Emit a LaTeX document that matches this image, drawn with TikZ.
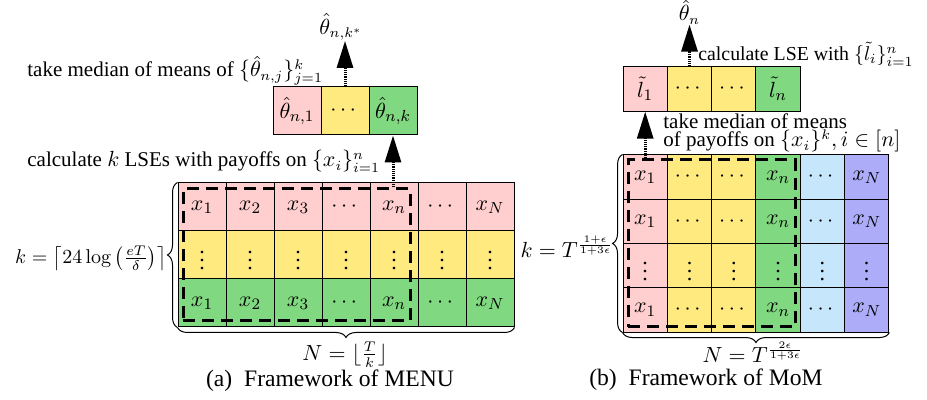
\documentclass[tikz,border=0pt]{standalone}
\usepackage[no-math]{fontspec}
\setmainfont{Liberation Serif}
\usepackage{amsmath}
\usetikzlibrary{arrows.meta,decorations.pathreplacing}
\definecolor{cpink}{RGB}{255,206,206}
\definecolor{cyel}{RGB}{255,234,128}
\definecolor{cgreen}{RGB}{128,216,128}
\definecolor{cblue}{RGB}{198,230,252}
\definecolor{cpurp}{RGB}{172,172,248}
\begin{document}
\begin{tikzpicture}[x=0.5pt,y=-0.5pt,
  cellA/.style={draw=black, line width=0.5pt, minimum width=24pt, minimum height=24pt, inner sep=0pt, font=\fontsize{11}{13}\selectfont},
  cellB/.style={draw=black, line width=0.5pt, minimum width=22.15pt, minimum height=22.15pt, inner sep=0pt, font=\fontsize{11}{13}\selectfont},
  dashbox/.style={draw=black, line width=1.5pt, dash pattern=on 6pt off 3.5pt, inner sep=0pt},
  dotarrow/.style={line width=1.5pt, dash pattern=on 0.6pt off 0.5pt, -{Triangle[length=13.5pt,width=8pt]}},
  txt/.style={inner sep=0pt, font=\fontsize{10.5}{12.5}\selectfont},
  mtxt/.style={inner sep=0pt, font=\fontsize{10.5}{12}\selectfont},
  captxt/.style={inner sep=0pt, font=\fontsize{11.8}{14}\selectfont},
  brc/.style={decorate, decoration={brace, amplitude=5pt}, line width=0.5pt}]
\useasboundingbox (0,0) rectangle (927,400);
% ---------- (a) MENU ----------
\foreach \c/\t in {1/{x_1},2/{x_2},3/{x_3},4/{\cdots},5/{x_n},6/{\cdots},7/{x_N}}{
  \node[cellA, fill=cpink] (La1\c) at ({202+48*(\c-1)},207) {$\t$};
  \node[cellA, fill=cyel] (La2\c) at ({202+48*(\c-1)},255) {$\vdots$};
  \node[cellA, fill=cgreen] (La3\c) at ({202+48*(\c-1)},303) {$\t$};
}
\node[cellA, fill=cpink] (t1) at (297,111) {$\hat\theta_{n,1}$};
\node[cellA, fill=cyel] (t2) at (345,111) {$\cdots$};
\node[cellA, fill=cgreen] (t3) at (393,111) {$\hat\theta_{n,k}$};
\node[dashbox, minimum width=113.5pt, minimum height=66pt] (dA) at (296.5,255) {};
\node[mtxt] (thstar) at (341,27) {$\hat\theta_{n,k^*}$};
\draw[dotarrow] (dA.north -| t3.south) -- (t3.south);
\draw[dotarrow] (t2.north) -- (t2.north |- thstar.south);
\node[txt, anchor=base west] (tA1) at (27,77) {take median of means of $\{\hat\theta_{n,j}\}_{j=1}^{k}$};
\node[txt, anchor=base west] (tA2) at (27,167) {calculate $k$ LSEs with payoffs on $\{x_i\}_{i=1}^{n}$};
\draw[brc] (La31.south west) -- (La11.north west);
\node[mtxt, anchor=east, font=\fontsize{10.3}{12}\selectfont] (kA) at (167,258) {$k=\left\lceil 24\log\left(\frac{eT}{\delta}\right)\right\rceil$};
\draw[brc] (La37.south east) -- (La31.south west);
\node[mtxt] (NA) at (345,355) {$N=\lfloor\frac{T}{k}\rfloor$};
\node[captxt] (capA) at (330,381) {(a)\ \ Framework of MENU};
% ---------- (b) MoM ----------
\foreach \c/\t/\col in {1/{x_1}/cpink,2/{\cdots}/cyel,3/{\cdots}/cyel,4/{x_n}/cgreen,5/{\cdots}/cblue,6/{x_N}/cpurp}{
  \node[cellB, fill=\col] (Rb1\c) at ({645.2+44.3*(\c-1)},177.1) {$\t$};
  \node[cellB, fill=\col] (Rb2\c) at ({645.2+44.3*(\c-1)},221.4) {$\t$};
  \node[cellB, fill=\col] (Rb3\c) at ({645.2+44.3*(\c-1)},265.6) {$\vdots$};
  \node[cellB, fill=\col] (Rb4\c) at ({645.2+44.3*(\c-1)},309.9) {$\t$};
}
\node[cellB, fill=cpink] (l1) at (645.2,89) {$\tilde l_1$};
\node[cellB, fill=cyel] (l2) at (689.5,89) {$\cdots$};
\node[cellB, fill=cyel] (l3) at (733.8,89) {$\cdots$};
\node[cellB, fill=cgreen] (l4) at (778.1,89) {$\tilde l_n$};
\node[dashbox, minimum width=83.5pt, minimum height=83.5pt] (dB) at (711.5,243.5) {};
\node[mtxt] (thn) at (689.5,12) {$\hat\theta_n$};
\draw[dotarrow] (dB.north -| l1.south) -- (l1.south);
\draw[dotarrow] (l2.north) -- (l2.north |- thn.south);
\node[txt, anchor=base west, font=\fontsize{9.9}{12}\selectfont] (tB1) at (698,61) {calculate LSE with $\{\tilde l_i\}_{i=1}^{n}$};
\node[txt, anchor=base west] (tB2) at (663,129) {take median of means};
\node[txt, anchor=base west] (tB3) at (663,147) {of payoffs on $\{x_i\}^k, i\in[n]$};
\draw[brc] (Rb41.south west) -- (Rb11.north west);
\node[mtxt, anchor=east] (kB) at (614,247) {$k=T^{\frac{1+\epsilon}{1+3\epsilon}}$};
\draw[brc] (Rb46.south east) -- (Rb41.south west);
\node[mtxt] (NB) at (753,352) {$N=T^{\frac{2\epsilon}{1+3\epsilon}}$};
\node[captxt] (capB) at (706,380) {(b)\ \ Framework of MoM};
\end{tikzpicture}
\end{document}
